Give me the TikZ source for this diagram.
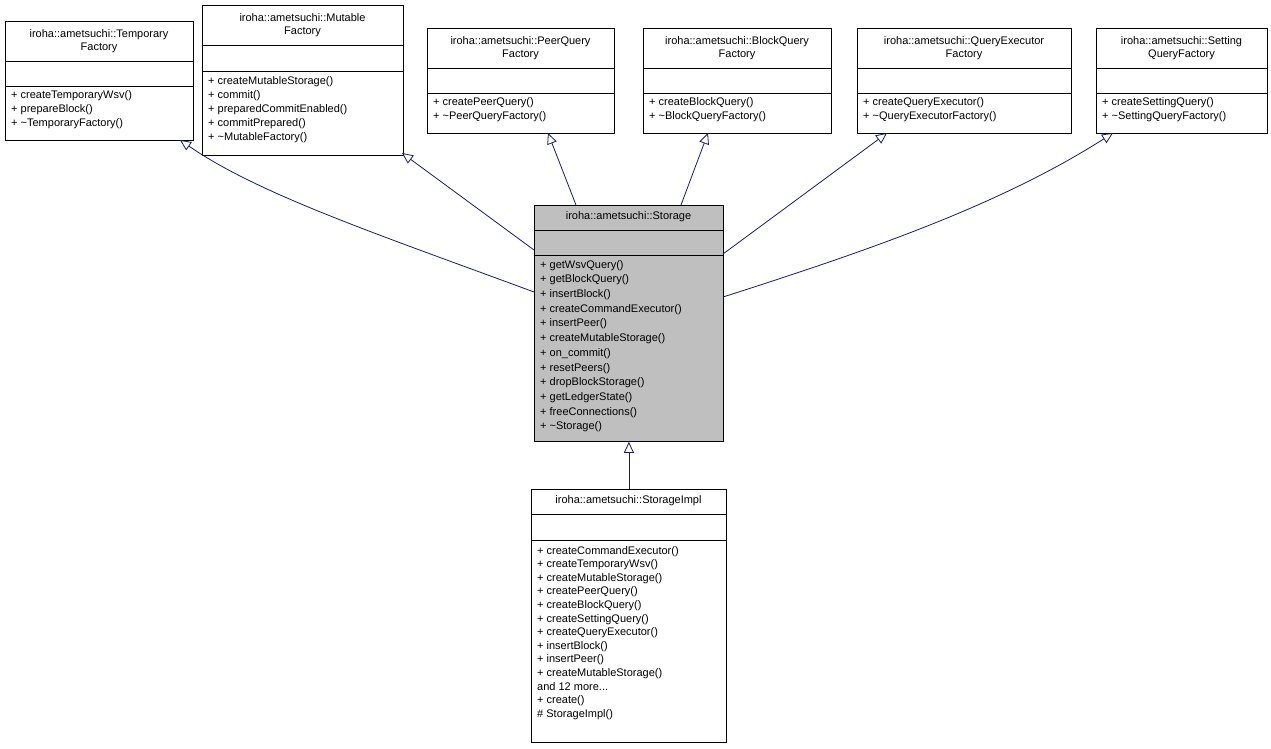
\documentclass[tikz,border=0pt]{standalone}
\usepackage{fontspec}
\setmainfont{Liberation Sans}
\usetikzlibrary{arrows.meta}
\definecolor{edge}{HTML}{191970}
\tikzset{
  cls/.style={draw=black, line width=0.8pt, anchor=north west, inner sep=0pt},
  ttl/.style={align=center, font=\fontsize{11}{13.5}\selectfont, inner sep=0pt},
  mth/.style={align=left, anchor=north west, font=\fontsize{11}{14.2}\selectfont, inner sep=0pt},
  inh/.style={draw=edge, line width=0.8pt, -{Triangle[open,length=11pt,width=10pt]}}
}
% \cbox{name}{x1}{y1}{x2}{y2}{d1}{d2}{fill}
\newcommand{\cbox}[8]{%
  \node[cls, fill=#8, minimum width=#4pt-#2pt, minimum height=#5pt-#3pt] (#1) at (#2,#3) {};
  \draw[line width=0.8pt] (#2,#6) -- (#4,#6) (#2,#7) -- (#4,#7);
}
\begin{document}
\begin{tikzpicture}[x=1pt,y=-1pt]
\useasboundingbox (0,0) rectangle (1271,749);
% top row
\cbox{tf}{5}{21}{193}{140}{61}{86}{white}
\node[ttl] (tft) at (99,41) {iroha::ametsuchi::Temporary\\Factory};
\node[mth] (tfm) at (11,90) {+ createTemporaryWsv()\\+ prepareBlock()\\+ \textasciitilde TemporaryFactory()};

\cbox{mf}{202}{5}{403}{155}{45}{71}{white}
\node[ttl] (mft) at (302.5,25) {iroha::ametsuchi::Mutable\\Factory};
\node[mth] (mfm) at (208,76) {+ createMutableStorage()\\+ commit()\\+ preparedCommitEnabled()\\+ commitPrepared()\\+ \textasciitilde MutableFactory()};

\cbox{pf}{427}{28}{614}{133}{68}{93}{white}
\node[ttl] (pft) at (520.5,48) {iroha::ametsuchi::PeerQuery\\Factory};
\node[mth] (pfm) at (433,97) {+ createPeerQuery()\\+ \textasciitilde PeerQueryFactory()};

\cbox{bf}{643}{28}{831}{133}{68}{93}{white}
\node[ttl] (bft) at (737,48) {iroha::ametsuchi::BlockQuery\\Factory};
\node[mth] (bfm) at (649,97) {+ createBlockQuery()\\+ \textasciitilde BlockQueryFactory()};

\cbox{qf}{857}{28}{1071}{133}{68}{93}{white}
\node[ttl] (qft) at (964,48) {iroha::ametsuchi::QueryExecutor\\Factory};
\node[mth] (qfm) at (863,97) {+ createQueryExecutor()\\+ \textasciitilde QueryExecutorFactory()};

\cbox{sf}{1096}{28}{1267}{133}{68}{93}{white}
\node[ttl] (sft) at (1181.5,48) {iroha::ametsuchi::Setting\\QueryFactory};
\node[mth] (sfm) at (1102,97) {+ createSettingQuery()\\+ \textasciitilde SettingQueryFactory()};

% Storage
\cbox{st}{534}{205}{723}{441}{230}{255}{gray!50}
\node[ttl] (stt) at (628.5,217) {iroha::ametsuchi::Storage};
\node[mth, font=\fontsize{11}{14.7}\selectfont] (stm) at (540,260) {+ getWsvQuery()\\+ getBlockQuery()\\+ insertBlock()\\+ createCommandExecutor()\\+ insertPeer()\\+ createMutableStorage()\\+ on\_commit()\\+ resetPeers()\\+ dropBlockStorage()\\+ getLedgerState()\\+ freeConnections()\\+ \textasciitilde Storage()};

% StorageImpl
\cbox{si}{531}{489}{726}{742}{514}{540}{white}
\node[ttl] (sit) at (628.5,501) {iroha::ametsuchi::StorageImpl};
\node[mth, font=\fontsize{11}{13.6}\selectfont] (sim) at (537,546) {+ createCommandExecutor()\\+ createTemporaryWsv()\\+ createMutableStorage()\\+ createPeerQuery()\\+ createBlockQuery()\\+ createSettingQuery()\\+ createQueryExecutor()\\+ insertBlock()\\+ insertPeer()\\+ createMutableStorage()\\and 12 more...\\+ create()\\\# StorageImpl()};

% coordinates for edges
\coordinate (s1) at (534,292);
\coordinate (s2) at (534,250);
\coordinate (s3) at (576,205);
\coordinate (s4) at (681,205);
\coordinate (s5) at (723,254);
\coordinate (s6) at (723,297);
\coordinate (t1) at (180,140);
\coordinate (t2) at (402,153);
\coordinate (t3) at (548,133);
\coordinate (t4) at (708,133);
\coordinate (t5) at (887,133);
\coordinate (t6) at (1113,133);
\draw[inh] (s1) .. controls (380,235) and (260,195) .. (t1);
\draw[inh] (s2) -- (t2);
\draw[inh] (s3) -- (t3);
\draw[inh] (s4) -- (t4);
\draw[inh] (s5) -- (t5);
\draw[inh] (s6) .. controls (870,250) and (1000,205) .. (t6);
\draw[inh] (si.north) -- (st.south);
\end{tikzpicture}
\end{document}
